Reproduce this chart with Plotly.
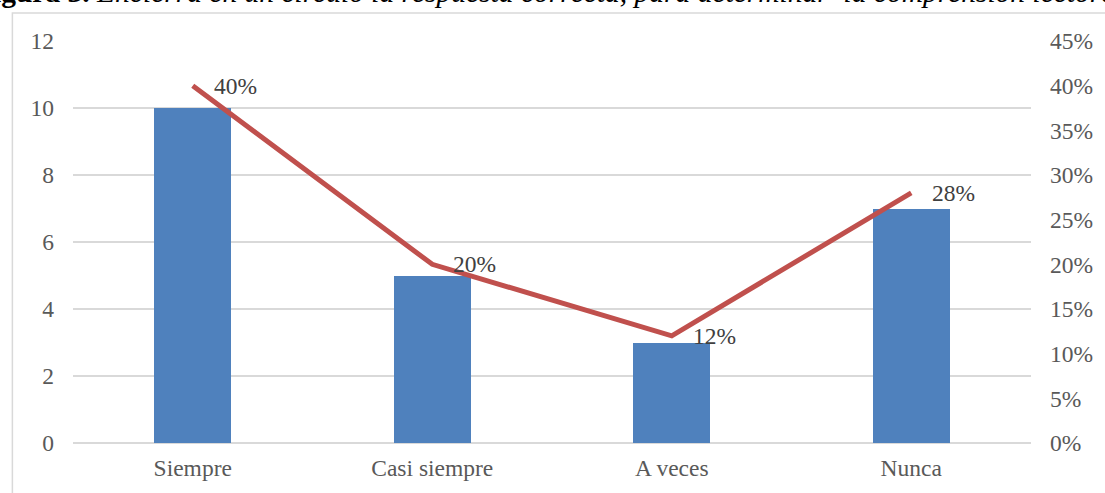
import plotly.graph_objects as go

categories = ["Siempre", "Casi siempre", "A veces", "Nunca"]
counts = [10, 5, 3, 7]
percents = [40, 20, 12, 28]
pct_labels = ["40%", "20%", "12%", "28%"]
left_ticks = [0, 2, 4, 6, 8, 10, 12]
right_ticks = [0, 5, 10, 15, 20, 25, 30, 35, 40, 45]
title_text = "<b>Figura 3.</b> <i>Encierra en un círculo la respuesta correcta, para determinar  la comprensión lectora</i>"

W, H = 1105, 493
L, R, T, B = 73, 68, 41, 50
pw, ph = W - L - R, H - T - B

FONT = "Liberation Serif, Times New Roman, serif"
GRAY = "#595959"
FS = 23.5

fig = go.Figure()
fig.add_trace(go.Bar(x=categories, y=counts, marker=dict(color="#4F81BD", line=dict(width=0)),
                     width=0.32, yaxis="y", showlegend=False))
fig.add_trace(go.Scatter(x=categories, y=percents, mode="lines", yaxis="y2",
                         line=dict(color="#C0504D", width=5), showlegend=False))

for c, p, t in zip(categories, percents, pct_labels):
    fig.add_annotation(x=c, y=p, yref="y2", text=t, showarrow=False, xanchor="left",
                       yanchor="middle", xshift=19, yshift=0,
                       font=dict(family=FONT, size=FS, color="#404040"))

# title partly cut off at top of the image
fig.add_annotation(xref="paper", yref="paper", x=(-28 - L) / pw, y=(H - B - 10) / ph,
                   xanchor="left", yanchor="bottom", showarrow=False, text=title_text,
                   font=dict(family=FONT, size=29.5, color="#000000"))

fig.add_shape(type="rect", xref="paper", yref="paper",
              x0=(12 - L) / pw, x1=(W + 10 - L) / pw,
              y0=(H - B - 13) / ph, y1=(H - B - 510) / ph,
              line=dict(color="#D9D9D9", width=1.5), fillcolor="rgba(0,0,0,0)", layer="below")

fig.update_layout(
    width=W, height=H,
    margin=dict(l=L, r=R, t=T, b=B, pad=0),
    paper_bgcolor="white", plot_bgcolor="white",
    bargap=0,
    font=dict(family=FONT, size=FS, color=GRAY),
    xaxis=dict(showgrid=False, showline=False, zeroline=False, ticks="",
               tickfont=dict(family=FONT, size=FS, color=GRAY), ticklabelstandoff=8),
    yaxis=dict(range=[0, 12], tickvals=left_ticks, showgrid=True, gridcolor="#D9D9D9",
               gridwidth=1.5, zeroline=True, zerolinecolor="#D9D9D9", zerolinewidth=1.5,
               showline=False, ticks="", ticklabelstandoff=18,
               tickfont=dict(family=FONT, size=FS, color=GRAY)),
    yaxis2=dict(range=[0, 45], tickvals=right_ticks, ticktext=[f"{v}%" for v in right_ticks],
                overlaying="y", side="right", showgrid=False, zeroline=False, showline=False,
                ticks="", ticklabelstandoff=18,
                tickfont=dict(family=FONT, size=FS, color=GRAY)),
)

fig.write_html("out.html", config={"displayModeBar": False},
               post_script="document.body.style.margin='0';document.body.style.overflow='hidden';")
